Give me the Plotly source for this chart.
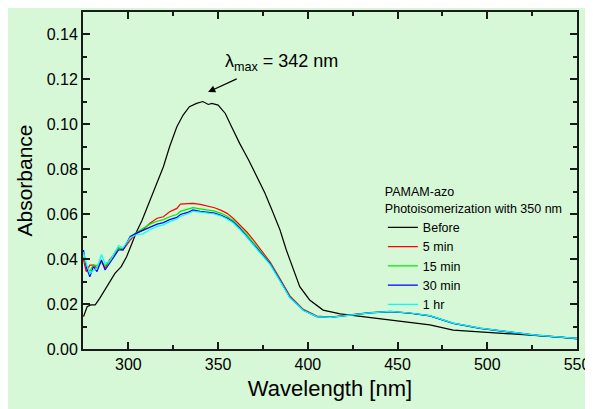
import plotly.graph_objects as go

# ---- data ----
wl_before = [275, 277, 279, 281.5, 284, 287, 290, 292.5, 296, 299, 302, 304.5, 307.5, 310, 312, 315,
             319.5, 323, 327, 330.5, 334, 338, 341.5, 344.5, 346.5, 350, 354, 357.5, 362, 367, 371.5,
             376, 380, 384.5, 388, 392, 395.5, 401, 408.5, 418, 431, 446, 468, 481, 496, 511, 526, 541, 550]
before = [0.0144, 0.0188, 0.0196, 0.0196, 0.0225, 0.0265, 0.0307, 0.0336, 0.0366, 0.041, 0.047, 0.052,
          0.057, 0.062, 0.066, 0.072, 0.081, 0.090, 0.0988, 0.104, 0.1077, 0.1092, 0.1100, 0.1087, 0.1092,
          0.1084, 0.1047, 0.0988, 0.0914, 0.0840, 0.0766, 0.0695, 0.0618, 0.0529, 0.0440, 0.0351, 0.0277,
          0.0218, 0.0173, 0.0156, 0.0144, 0.0129, 0.0107, 0.0084, 0.0077, 0.0070, 0.0062, 0.0053, 0.0045]

wl = [275, 276.5, 278.5, 280.5, 282.5, 285, 287, 289.5, 292.5, 294.5, 297, 301, 304.5, 308, 312, 316,
      319.5, 323, 327, 329, 333, 336, 340, 344, 348, 352, 355, 358.5, 362, 366, 369.5, 373.5, 379, 384.5,
      390, 397.5, 405, 412.5, 423.5, 434.5, 446, 457, 468, 481, 496, 511, 526, 541, 550]
min5 = [0.0396, 0.0344, 0.0373, 0.0373, 0.0359, 0.0388, 0.0359, 0.0396, 0.0425, 0.0447, 0.0440, 0.0484,
        0.0514, 0.0529, 0.0559, 0.0581, 0.0588, 0.0610, 0.0625, 0.0644, 0.0646, 0.0647, 0.0643, 0.0637,
        0.0628, 0.0615, 0.0603, 0.0580, 0.0553, 0.0520, 0.0486, 0.0442, 0.0386, 0.0312, 0.0236, 0.0176,
        0.0146, 0.0142, 0.0152, 0.0162, 0.0167, 0.0160, 0.0148, 0.0115, 0.0093, 0.0078, 0.0063, 0.0053, 0.0047]
min15 = [0.0410, 0.0370, 0.0345, 0.0375, 0.0370, 0.0390, 0.0370, 0.0390, 0.0430, 0.0450, 0.0445, 0.0495,
         0.0518, 0.0535, 0.0555, 0.0568, 0.0575, 0.0588, 0.0598, 0.0612, 0.0620, 0.0628, 0.0623, 0.0619,
         0.0613, 0.0602, 0.0590, 0.0570, 0.0543, 0.0508, 0.0474, 0.0433, 0.0381, 0.0307, 0.0232, 0.0173,
         0.0144, 0.0141, 0.0151, 0.0161, 0.0166, 0.0159, 0.0147, 0.0114, 0.0092, 0.0077, 0.0062, 0.0052, 0.0047]
min30 = [0.0440, 0.0365, 0.0321, 0.0366, 0.0344, 0.0396, 0.0351, 0.0380, 0.0420, 0.0440, 0.0440, 0.0500,
         0.0515, 0.0527, 0.0544, 0.0555, 0.0562, 0.0575, 0.0585, 0.0598, 0.0607, 0.0618, 0.0612, 0.0608,
         0.0604, 0.0593, 0.0582, 0.0563, 0.0537, 0.0500, 0.0467, 0.0428, 0.0378, 0.0305, 0.0230, 0.0172,
         0.0144, 0.0141, 0.0151, 0.0161, 0.0166, 0.0159, 0.0147, 0.0114, 0.0092, 0.0077, 0.0062, 0.0052, 0.0047]
hr1 = [0.0430, 0.0380, 0.0335, 0.0350, 0.0360, 0.0420, 0.0380, 0.0390, 0.0430, 0.0460, 0.0450, 0.0495,
       0.0508, 0.0512, 0.0530, 0.0545, 0.0552, 0.0566, 0.0578, 0.0590, 0.0600, 0.0612, 0.0608, 0.0604,
       0.0600, 0.0590, 0.0578, 0.0560, 0.0533, 0.0497, 0.0464, 0.0425, 0.0375, 0.0302, 0.0228, 0.0171,
       0.0144, 0.0141, 0.0151, 0.0161, 0.0167, 0.0160, 0.0148, 0.0115, 0.0093, 0.0078, 0.0063, 0.0053, 0.0047]

series_names = ["Before", "5 min", "15 min", "30 min", "1 hr"]
x_ticks = [300, 350, 400, 450, 500, 550]
y_ticks = [0.00, 0.02, 0.04, 0.06, 0.08, 0.10, 0.12, 0.14]

lambda_max = 342

# ---- figure ----
colors = ["#000000", "#ff0000", "#00ee00", "#0000ff", "#00ffff"]
xs = [wl_before, wl, wl, wl, wl]
ys = [before, min5, min15, min30, hr1]

fig = go.Figure()
for name, x, y, c in zip(series_names, xs, ys, colors):
    fig.add_trace(go.Scatter(x=x, y=y, mode="lines", name=name,
                             line=dict(color=c, width=1.2)))

font_family = "Arial, Liberation Sans, sans-serif"
axis_common = dict(
    showline=True, linecolor="#1a1a1a", linewidth=2, mirror="allticks",
    ticks="inside", ticklen=7, tickwidth=1.5, tickcolor="#1a1a1a",
    showgrid=False, zeroline=False, automargin=False,
    tickfont=dict(family=font_family, size=16, color="black"),
)

# page body has an 8px default margin, so the figure is 8px smaller than the window
fig.update_layout(
    width=585, height=401,
    margin=dict(l=75, r=16, t=4, b=60, autoexpand=False),
    paper_bgcolor="#d6f8d6", plot_bgcolor="#d6f8d6",
    font=dict(family=font_family, color="black"),
    xaxis=dict(range=[274.7, 550], tickvals=x_ticks,
               minor=dict(dtick=25, ticks="inside", ticklen=4, tickcolor="#1a1a1a"),
               title=dict(text="Wavelength [nm]", font=dict(size=22), standoff=8),
               **axis_common),
    yaxis=dict(range=[0, 0.1498], tickvals=y_ticks, tickformat=".2f",
               minor=dict(dtick=0.01, ticks="inside", ticklen=4, tickcolor="#1a1a1a"),
               title=dict(text="Absorbance", font=dict(size=21), standoff=8),
               **axis_common),
    legend=dict(x=0.607, y=0.501, xanchor="left", yanchor="top",
                bgcolor="rgba(0,0,0,0)", borderwidth=0,
                font=dict(size=12.5, family=font_family),
                title=dict(text="PAMAM-azo<br>Photoisomerization with 350 nm",
                           font=dict(size=12.5, family=font_family)),
                tracegroupgap=0),
    showlegend=True,
)

# annotation text
fig.add_annotation(x=352.7, y=0.1275, xref="x", yref="y", xanchor="left", yanchor="middle",
                   text="λ<sub>max</sub> = %d nm" % lambda_max, showarrow=False,
                   font=dict(size=18, family=font_family, color="black"))
# arrow
fig.add_annotation(x=344.4, y=0.1142, xref="x", yref="y", ax=361.2, ay=0.1204,
                   axref="x", ayref="y", text="", showarrow=True, arrowhead=2,
                   arrowsize=1.2, arrowwidth=1.2, arrowcolor="black", standoff=0)

fig.write_html("out.html")
